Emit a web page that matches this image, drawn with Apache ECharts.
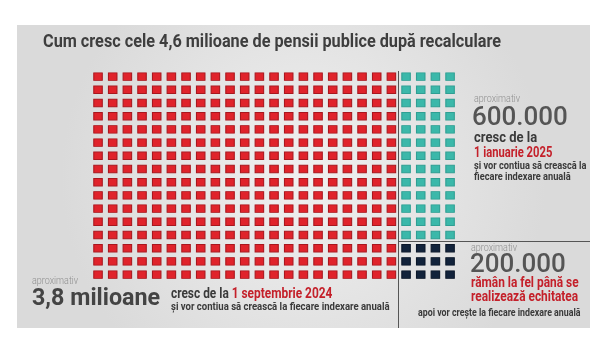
<!DOCTYPE html>
<html>
<head>
<meta charset="utf-8">
<script src="https://cdn.jsdelivr.net/npm/echarts@6/dist/echarts.min.js"></script>
<style>
html, body { margin: 0; padding: 0; background: #fff; }
#chart { width: 590px; height: 353px; }
</style>
</head>
<body>
<div id="chart"></div>
<script>
// waffle: 4,6 milioane de pensii, 400 de pătrate
const groups = ['3,8 milioane', '600.000', '200.000'];
const cells = [336, 52, 12];
const colors = ['#e0232b', '#3bb8aa', '#12233b'];
const borders = ['#a9171e', '#2f9f93', '#0b1729'];
const gridCols = 25;
const gridRows = 16;

// primul grup umple coloanele de sus în jos, restul umplu blocul din dreapta pe rânduri
const points = groups.map(() => []);
for (let i = 0; i < cells[0]; i++) {
    points[0].push([Math.floor(i / gridRows), i % gridRows]);
}
const startCol = Math.ceil(cells[0] / gridRows);
const blockW = gridCols - startCol;
let idx = 0;
for (let g = 1; g < groups.length; g++) {
    for (let i = 0; i < cells[g]; i++) {
        points[g].push([startCol + idx % blockW, Math.floor(idx / blockW)]);
        idx++;
    }
}

const chart = echarts.init(document.getElementById('chart'));

function txt(x, y, text, font, fill, sx) {
    return {
        type: 'text',
        x: x,
        y: y,
        scaleX: sx || 1,
        z: 10,
        style: {
            text: text,
            font: font,
            fill: fill,
            textAlign: 'left',
            textVerticalAlign: 'middle'
        }
    };
}

const dark = '#3a3a3a';
const red = '#c4202a';
const light = '#8f8f8f';

chart.setOption({
    animation: false,
    grid: { left: 90.7, top: 70, width: 366.7, height: 211.2 },
    xAxis: { type: 'value', min: -0.5, max: gridCols - 0.5, show: false },
    yAxis: { type: 'value', min: -0.5, max: gridRows - 0.5, inverse: true, show: false },
    graphic: [
        {
            type: 'rect',
            z: -10,
            shape: { x: 17, y: 25, width: 573, height: 303 },
            style: {
                fill: new echarts.graphic.RadialGradient(0.5, 0.5, 0.8, [
                    { offset: 0, color: '#f0f0f0' },
                    { offset: 1, color: '#dadada' }
                ])
            }
        },
        {
            type: 'line',
            shape: { x1: 398.5, y1: 71, x2: 398.5, y2: 328 },
            style: { stroke: '#555', lineWidth: 1 }
        },
        {
            type: 'line',
            shape: { x1: 398.5, y1: 241.5, x2: 590, y2: 241.5 },
            style: { stroke: '#555', lineWidth: 1 }
        },
        // titlu
        {
            type: 'text',
            x: 272,
            y: 42,
            scaleX: 0.855,
            style: {
                text: 'Cum cresc cele 4,6 milioane de pensii publice după recalculare',
                font: 'bold 19px Roboto',
                fill: '#3e3e3e',
                textAlign: 'center',
                textVerticalAlign: 'middle'
            }
        },
        // dreapta sus
        txt(474, 99, 'aproximativ', '300 10px Roboto', light, 0.9),
        txt(472, 118, '600.000', '500 26px Roboto', '#555'),
        txt(474, 138, 'cresc de la', 'bold 14px Roboto', dark, 0.93),
        txt(474, 153, '1 ianuarie 2025', 'bold 14px Roboto', red, 0.8),
        txt(474, 166, 'și vor contiua să crească la', 'bold 10.5px Roboto', dark, 0.88),
        txt(474, 177, 'fiecare indexare anuală', 'bold 10.5px Roboto', dark, 0.88),
        // dreapta jos
        txt(471, 248, 'aproximativ', '300 10px Roboto', light, 0.9),
        txt(470, 265, '200.000', '500 26px Roboto', '#555'),
        txt(471, 283, 'rămân la fel până se', 'bold 14px Roboto', red, 0.85),
        txt(471, 297, 'realizează echitatea', 'bold 14px Roboto', red, 0.85),
        txt(418, 313, 'apoi vor crește la fiecare indexare anuală', 'bold 10.5px Roboto', dark, 0.84),
        // stânga jos
        txt(32, 281, 'aproximativ', '300 10px Roboto', light, 0.9),
        txt(32, 299, '3,8 milioane', 'bold 24px Roboto', '#444', 0.97),
        {
            type: 'text',
            x: 171,
            y: 294,
            scaleX: 0.85,
            style: {
                text: '{a|cresc de la }{b|1 septembrie 2024}',
                textVerticalAlign: 'middle',
                rich: {
                    a: { font: 'bold 14px Roboto', fill: dark },
                    b: { font: 'bold 14px Roboto', fill: red }
                }
            }
        },
        txt(171, 307, 'și vor contiua să crească la fiecare indexare anuală', 'bold 10.5px Roboto', dark, 0.91)
    ],
    series: groups.map((name, g) => ({
        name: name,
        type: 'scatter',
        symbol: 'rect',
        symbolSize: [8.5, 7.5],
        data: points[g],
        itemStyle: { color: colors[g], borderColor: borders[g], borderWidth: 1, opacity: 1 },
        silent: true
    }))
});
</script>
</body>
</html>
